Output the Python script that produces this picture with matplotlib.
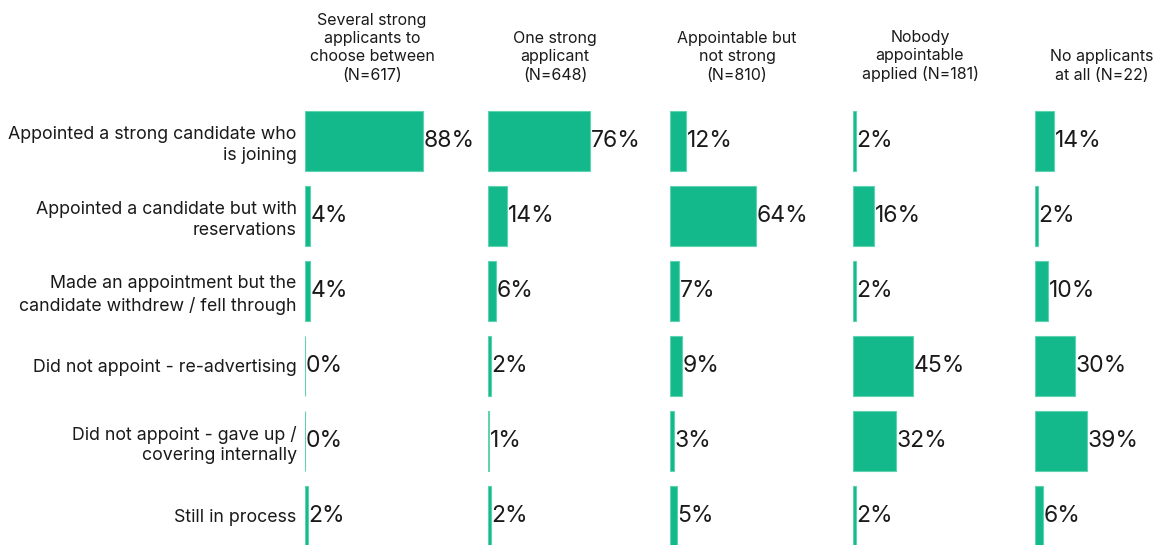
import matplotlib.pyplot as plt

plt.rcParams['font.family'] = ['Inter', 'DejaVu Sans']

outcomes = [
    'Appointed a strong candidate who\nis joining',
    'Appointed a candidate but with\nreservations',
    'Made an appointment but the\ncandidate withdrew / fell through',
    'Did not appoint - re-advertising',
    'Did not appoint - gave up /\ncovering internally',
    'Still in process',
]
groups = [
    'Several strong\napplicants to\nchoose between\n(N=617)',
    'One strong\napplicant\n(N=648)',
    'Appointable but\nnot strong\n(N=810)',
    'Nobody\nappointable\napplied (N=181)',
    'No applicants\nat all (N=22)',
]
several_strong = [88, 4, 4, 0, 0, 2]
one_strong = [76, 14, 6, 2, 1, 2]
appointable = [12, 64, 7, 9, 3, 5]
nobody_appointable = [2, 16, 2, 45, 32, 2]
no_applicants = [14, 2, 10, 30, 39, 6]
values = [several_strong, one_strong, appointable, nobody_appointable, no_applicants]

bar_color = '#13b98b'
text_color = '#1a1a1a'

W, H = 1159, 545
fig = plt.figure(figsize=(W / 100, H / 100), dpi=100)

lefts = [305, 488, 670, 853, 1035]
ax_w = 134
ax_top = 103.5
ax_bottom = H
rows = len(outcomes)
# rows are 75 px apart, bottom cut through the last bar
ymax = -0.5 + (ax_bottom - ax_top) / 75

for i, (left, title, vals) in enumerate(zip(lefts, groups, values)):
    ax = fig.add_axes([left / W, 0, ax_w / W, (H - ax_top) / H])
    ax.barh(range(rows), vals, height=0.8, color=bar_color,
            edgecolor='#5fd3b0', linewidth=0.8)
    ax.set_xlim(0, 100)
    ax.set_ylim(ymax, -0.5)
    for s in ax.spines.values():
        s.set_visible(False)
    ax.set_xticks([])
    if i == 0:
        ax.set_yticks(range(rows))
        ax.set_yticklabels(outcomes, fontsize=12.8, color=text_color,
                           linespacing=1.3)
        ax.tick_params(axis='y', length=0, pad=6)
    else:
        ax.set_yticks([])
    for r, v in enumerate(vals):
        ax.annotate(f'{v}%', (v, r), xytext=(0.5, 0), textcoords='offset points',
                    va='center', ha='left', fontsize=16.5, color=text_color)
    ax.text(0.5, 1 + 21 / (H - ax_top), title, transform=ax.transAxes,
            ha='center', va='bottom', fontsize=11.5, color=text_color,
            linespacing=1.27)

fig.savefig('out.png', dpi=100)
